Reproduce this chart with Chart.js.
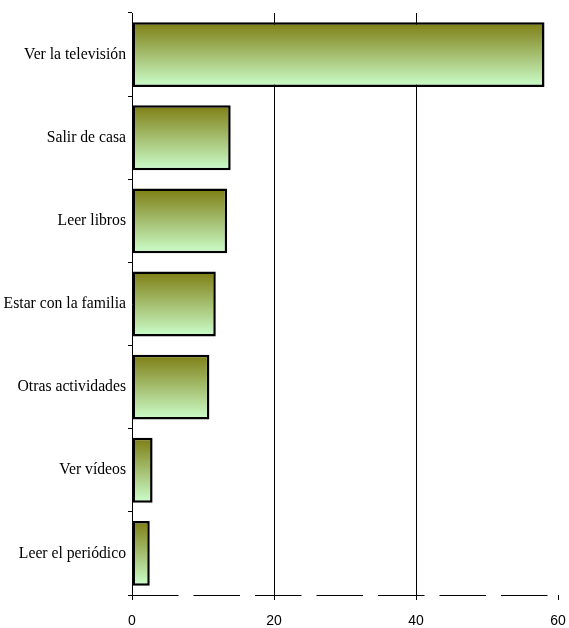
<!DOCTYPE html>
<html>
<head>
<meta charset="utf-8">
<script src="https://cdn.jsdelivr.net/npm/chart.js@4/dist/chart.umd.min.js"></script>
<style>
  html, body { margin: 0; padding: 0; background: #fff; }
  #wrap { width: 569px; height: 628px; }
</style>
</head>
<body>
<div id="wrap"><canvas id="chart" width="569" height="628"></canvas></div>
<script>
// Data
const categories = ['Ver la televisión', 'Salir de casa', 'Leer libros', 'Estar con la familia', 'Otras actividades', 'Ver vídeos', 'Leer el periódico'];
const values = [58.1, 13.9, 13.4, 11.8, 10.9, 2.9, 2.5];
const xTicks = [0, 20, 40, 60];

const BAR_PCT = 0.78;

// vertical gradient per bar: olive on top, pale green at the bottom
function barGradient(ctx) {
    const chart = ctx.chart;
    const yScale = chart.scales.y;
    if (!yScale || ctx.type !== 'data') return '#9aaa70';
    const band = (yScale.bottom - yScale.top) / categories.length;
    const yc = yScale.getPixelForValue(ctx.dataIndex);
    const h = band * BAR_PCT;
    if (!isFinite(yc) || !isFinite(h) || h <= 0) return '#9aaa70';
    const g = chart.ctx.createLinearGradient(0, yc - h / 2, 0, yc + h / 2);
    g.addColorStop(0, '#7d7d12');
    g.addColorStop(1, '#ccffcc');
    return g;
}

// the x axis line in the original is long-dashed
const dashedAxis = {
    id: 'dashedAxis',
    afterDraw(chart) {
        const area = chart.chartArea;
        const c = chart.ctx;
        c.save();
        c.strokeStyle = '#000';
        c.lineWidth = 1;
        c.setLineDash([46.5, 15]);
        c.beginPath();
        c.moveTo(area.left, Math.round(area.bottom) + 0.5);
        c.lineTo(area.right - 10, Math.round(area.bottom) + 0.5);
        c.stroke();
        c.restore();
    }
};

new Chart(document.getElementById('chart'), {
    type: 'bar',
    data: {
        labels: categories,
        datasets: [{
            data: values,
            backgroundColor: barGradient,
            borderColor: '#000',
            borderWidth: 2.5,
            borderSkipped: false,
            barPercentage: BAR_PCT,
            categoryPercentage: 1
        }]
    },
    options: {
        indexAxis: 'y',
        responsive: false,
        animation: false,
        layout: { padding: { top: 13, right: 11, left: 0, bottom: 0 } },
        plugins: { legend: { display: false }, tooltip: { enabled: false } },
        scales: {
            x: {
                min: 0,
                max: 60,
                afterBuildTicks: (scale) => { scale.ticks = xTicks.map(v => ({ value: v })); },
                afterFit: (scale) => {
                    scale.height = 33;
                    scale.paddingLeft = 0;
                    scale.paddingRight = 0;
                },
                ticks: { color: '#000', font: { family: 'Liberation Sans', size: 14 }, padding: 13, maxRotation: 0 },
                grid: {
                    color: (c) => (c.tick && (c.tick.value === 20 || c.tick.value === 40)) ? '#000' : 'rgba(0,0,0,0)',
                    tickColor: '#000',
                    tickLength: 5,
                    lineWidth: 1
                },
                border: { display: false }
            },
            y: {
                afterFit: (scale) => { scale.width = 132; },
                ticks: { color: '#000', font: { family: 'Liberation Serif', size: 15.7 }, padding: 2 },
                grid: {
                    offset: true,
                    drawOnChartArea: false,
                    color: '#000',
                    tickLength: 4
                },
                border: { display: true, color: '#000', width: 1 }
            }
        }
    },
    plugins: [dashedAxis]
});
</script>
</body>
</html>
